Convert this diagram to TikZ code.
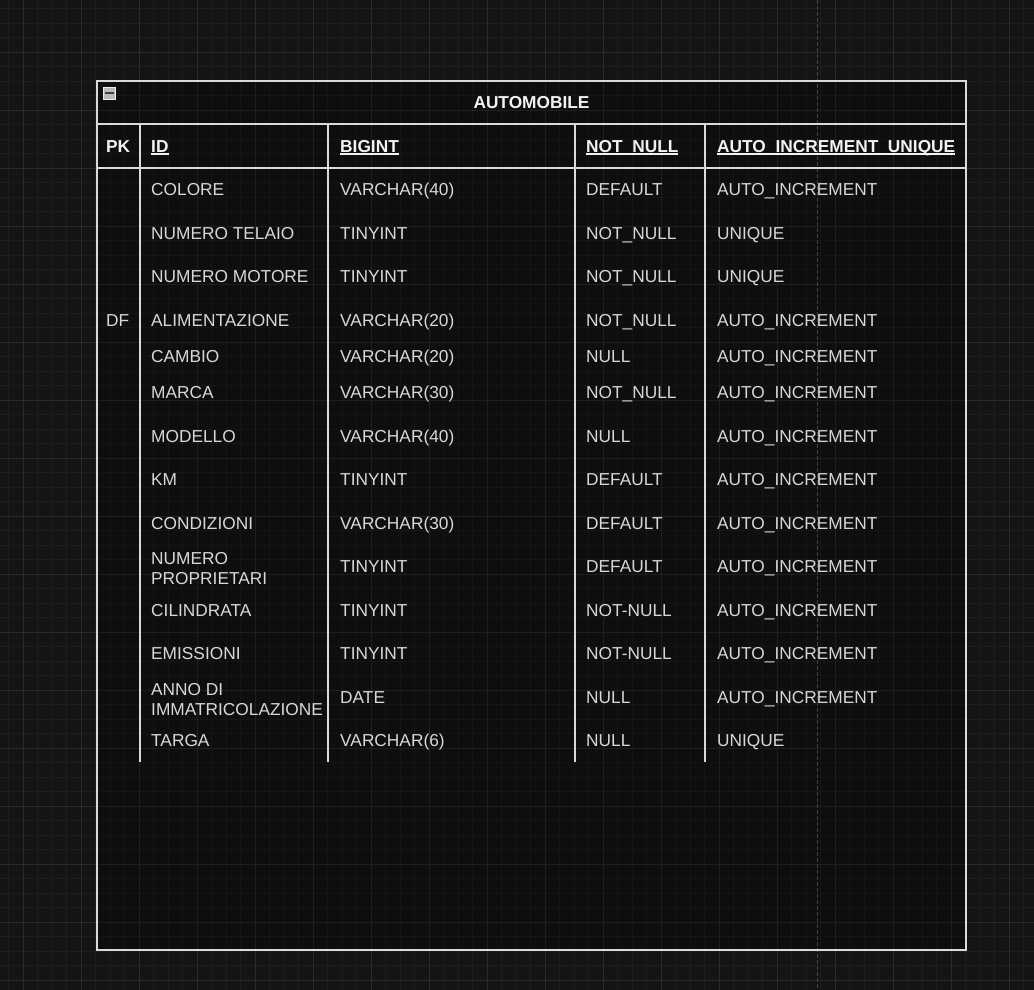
\documentclass[tikz,border=0pt]{standalone}
\usepackage{fontspec}
\setmainfont{Liberation Sans}
\definecolor{bgdark}{HTML}{141414}
\definecolor{gridlo}{HTML}{1D1D1D}
\definecolor{gridhi}{HTML}{2A2A2A}
\definecolor{pageline}{HTML}{454545}
\definecolor{tableline}{HTML}{DADADA}
\definecolor{celltext}{HTML}{D8D8D8}
\definecolor{headtext}{HTML}{F2F2F2}
\definecolor{togglefill}{HTML}{B9B9C2}
\newsavebox{\headbox}
\newcommand{\colhead}[1]{\sbox{\headbox}{#1}\rlap{\usebox{\headbox}}\rule[-2.7pt]{\wd\headbox}{1.3pt}}

\begin{document}
\begin{tikzpicture}[x=1pt,y=-1pt,
  every node/.style={inner sep=0pt,anchor=base west,font=\fontsize{17.3}{20}\selectfont,text=celltext},
  headcell/.style={text=headtext,font=\fontsize{17.3}{20}\selectfont\bfseries},
  gridminor/.style={draw=gridlo,line width=0.8pt},
  gridmajor/.style={draw=gridhi,line width=0.9pt},
  tableedge/.style={draw=tableline,line width=1.4pt}]
  \useasboundingbox (0,0) rectangle (1034,990);
  \fill[bgdark] (0,0) rectangle (1034,990);
  % background grid
  \foreach \i in {0,...,71} \draw[gridminor] ({8.5+14.5*\i},0) -- ++(0,990);
  \foreach \i in {0,...,67} \draw[gridminor] (0,{8.5+14.5*\i}) -- ++(1034,0);
  \foreach \i in {0,...,17} \draw[gridmajor] ({23+58*\i},0) -- ++(0,990);
  \foreach \i in {0,...,16} \draw[gridmajor] (0,{52+58*\i}) -- ++(1034,0);
  % table frame
  \fill[black,fill opacity=0.25] (97,81) rectangle (966,950);
  \draw[pageline,line width=0.9pt,dash pattern=on 4pt off 2pt] (817,0) -- (817,990);
  \draw[tableedge] (97,81) rectangle (966,950);
  \draw[tableedge] (97,124) -- (966,124) (97,168) -- (966,168);
  \foreach \x in {140,328,575,705} \draw[tableedge] (\x,124) -- (\x,762);
  % title row
  \node[draw=white!85!gray,fill=togglefill,minimum size=12pt,anchor=center] (toggle) at (109.5,93.5) {};
  \draw[black!75,line width=2pt] ([xshift=-4.5pt]toggle.center) -- ([xshift=4.5pt]toggle.center);
  \node[headcell,anchor=base] (title) at (531.5,108) {AUTOMOBILE};
  % column heads
  \node[headcell] (hpk) at (106,152) {PK};
  \node[headcell] (hid) at (151,152) {\colhead{ID}};
  \node[headcell] (htype) at (340,152) {\colhead{BIGINT}};
  \node[headcell] (hnull) at (586,152) {\colhead{NOT\_NULL}};
  \node[headcell] (hkey) at (717,152) {\colhead{AUTO\_INCREMENT\_UNIQUE}};
  % rows
  \node (df) at (106,326) {DF};
  \foreach \b/\nb/\n/\t/\c/\k [count=\i] in {
    195/195/COLORE/VARCHAR(40)/DEFAULT/AUTO\_INCREMENT,
    239/239/NUMERO TELAIO/TINYINT/NOT\_NULL/UNIQUE,
    282/282/NUMERO MOTORE/TINYINT/NOT\_NULL/UNIQUE,
    326/326/ALIMENTAZIONE/VARCHAR(20)/NOT\_NULL/AUTO\_INCREMENT,
    362/362/CAMBIO/VARCHAR(20)/NULL/AUTO\_INCREMENT,
    398/398/MARCA/VARCHAR(30)/NOT\_NULL/AUTO\_INCREMENT,
    442/442/MODELLO/VARCHAR(40)/NULL/AUTO\_INCREMENT,
    485/485/KM/TINYINT/DEFAULT/AUTO\_INCREMENT,
    529/529/CONDIZIONI/VARCHAR(30)/DEFAULT/AUTO\_INCREMENT,
    572/584/{NUMERO\\PROPRIETARI}/TINYINT/DEFAULT/AUTO\_INCREMENT,
    616/616/CILINDRATA/TINYINT/NOT-NULL/AUTO\_INCREMENT,
    659/659/EMISSIONI/TINYINT/NOT-NULL/AUTO\_INCREMENT,
    703/715/{ANNO DI\\IMMATRICOLAZIONE}/DATE/NULL/AUTO\_INCREMENT,
    746/746/TARGA/VARCHAR(6)/NULL/UNIQUE} {
    \node[align=left] (name\i) at (151,\nb) {\n};
    \node (type\i) at (340,\b) {\t};
    \node (null\i) at (586,\b) {\c};
    \node (key\i) at (717,\b) {\k};
  }
\end{tikzpicture}
\end{document}
